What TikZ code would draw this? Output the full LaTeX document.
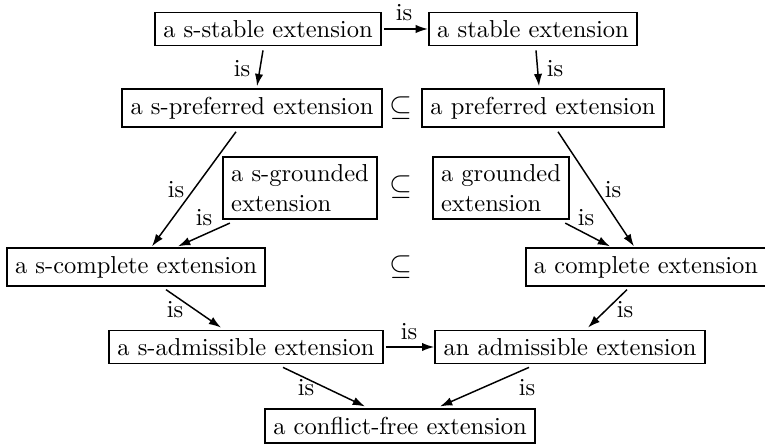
\documentclass[tikz,border=0pt]{standalone}
\usetikzlibrary{arrows.meta,calc}
\tikzset{
  ext/.style={draw, line width=0.75pt, inner xsep=3.4pt, inner ysep=3.2pt, font=\normalsize},
  extml/.style={ext, align=left},
  isarrow/.style={-{Latex[length=5pt,width=3.4pt]}, line width=0.6pt},
  islab/.style={inner sep=0pt},
  subs/.style={inner sep=0pt, font=\large}
}
\begin{document}
\begin{tikzpicture}[x=0.408pt,y=-0.408pt]
\useasboundingbox (0,0) rectangle (765,445);
% nodes
\node[ext] (sstable) at (268,29) {a s-stable extension};
\node[ext] (stable) at (533,29) {a stable extension};
\node[ext] (spref) at (252,108) {a s-preferred extension};
\node[ext] (pref) at (543,108) {a preferred extension};
\node[extml] (sground) at (300,188) {a s-grounded\\extension};
\node[extml] (ground) at (501,188) {a grounded\\extension};
\node[ext] (scomp) at (136,267) {a s-complete extension};
\node[ext] (comp) at (646,267) {a complete extension};
\node[ext] (sadm) at (246,347) {a s-admissible extension};
\node[ext] (adm) at (570,347) {an admissible extension};
\node[ext] (cf) at (400,426) {a conflict-free extension};
% subset symbols
\node[subs] (sub1) at (401,108) {$\subseteq$};
\node[subs] (sub2) at (401,187) {$\subseteq$};
\node[subs] (sub3) at (401,267) {$\subseteq$};
% arrows
\draw[isarrow] ($(sstable.east)+(2,0)$) -- (stable.west);
\draw[isarrow] ($(sstable.south)+(-5,4)$) -- ($(spref.north)+(5,-2)$);
\draw[isarrow] ($(stable.south)+(3,4)$) -- ($(pref.north)+(-4,-2)$);
\draw[isarrow] ($(spref.south)+(-16,4)$) -- ($(scomp.north)+(16,-1)$);
\draw[isarrow] ($(sground.south west)+(8,3)$) -- ($(scomp.north)+(42,-1)$);
\draw[isarrow] ($(pref.south)+(15,4)$) -- ($(comp.north)+(-12,-1)$);
\draw[isarrow] ($(ground.south east)+(-5,3)$) -- ($(comp.north)+(-36,-1)$);
\draw[isarrow] ($(scomp.south)+(30,3)$) -- ($(sadm.north)+(-25,-2)$);
\draw[isarrow] ($(comp.south)+(-19,3)$) -- ($(adm.north)+(18,-2)$);
\draw[isarrow] ($(sadm.east)+(2,0)$) -- (adm.west);
\draw[isarrow] ($(sadm.south)+(37,3)$) -- ($(cf.north)+(-35,-2)$);
\draw[isarrow] ($(adm.south)+(-41,3)$) -- ($(cf.north)+(40,-2)$);
% labels
\node[islab] (l1) at (404,13) {is};
\node[islab] (l2) at (242,69) {is};
\node[islab] (l3) at (555,69) {is};
\node[islab] (l4) at (176,190) {is};
\node[islab] (l5) at (204,218) {is};
\node[islab] (l6) at (613,190) {is};
\node[islab] (l7) at (586,218) {is};
\node[islab] (l8) at (175,310) {is};
\node[islab] (l9) at (625,310) {is};
\node[islab] (l10) at (409,332) {is};
\node[islab] (l11) at (306,388) {is};
\node[islab] (l12) at (527,388) {is};
\end{tikzpicture}
\end{document}
